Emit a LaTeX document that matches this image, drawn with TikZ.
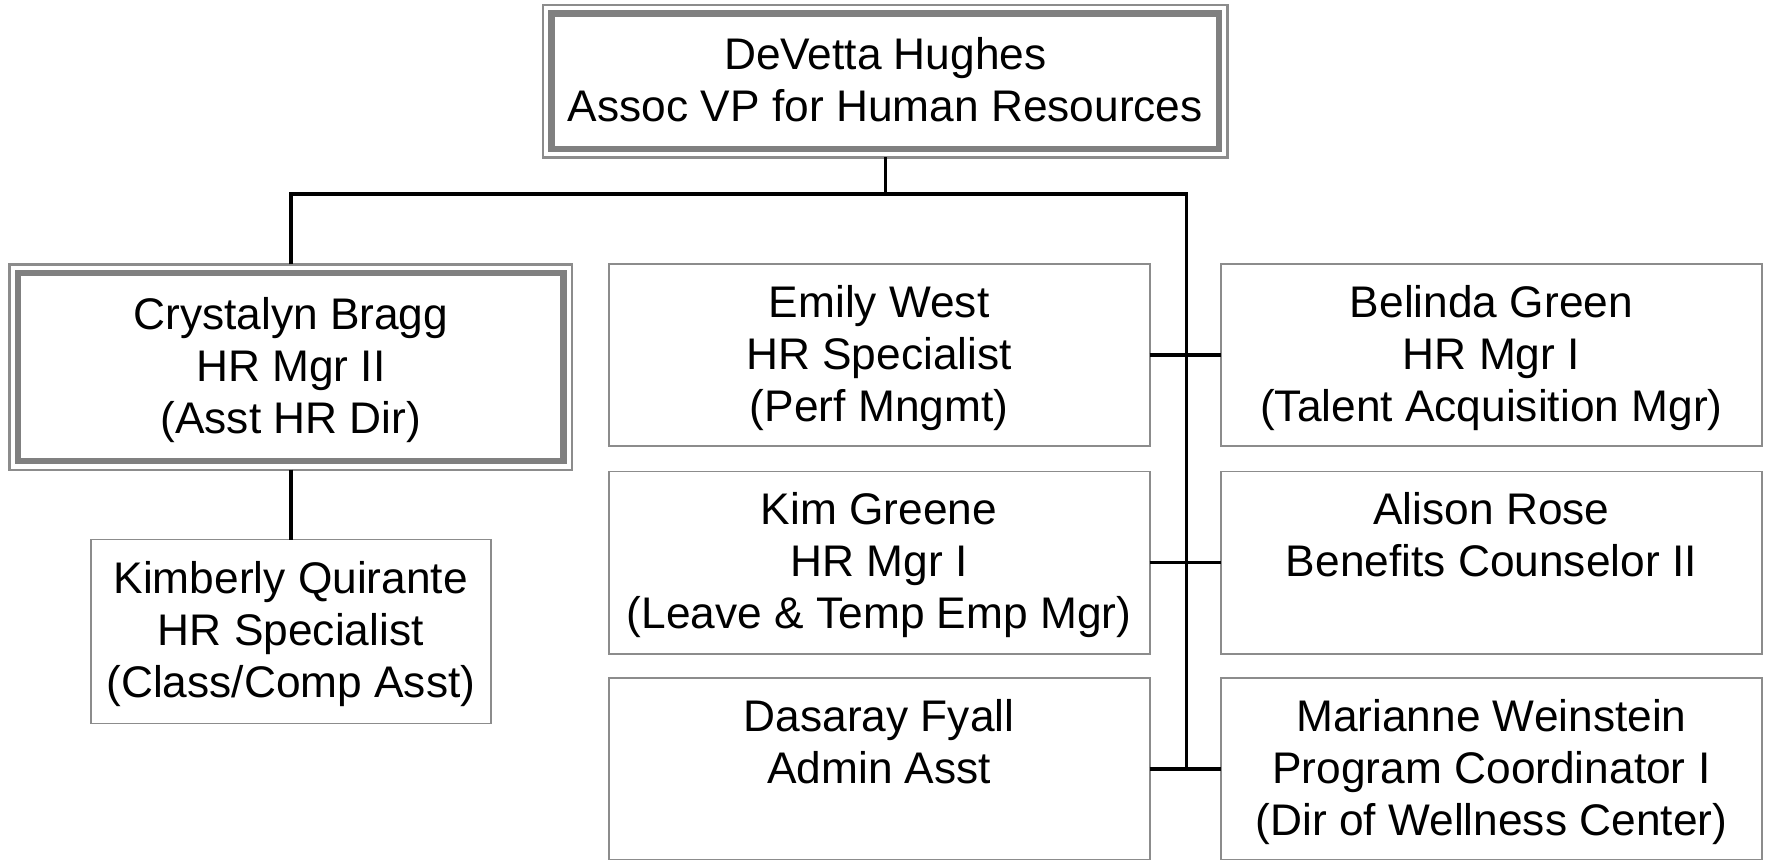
\documentclass[tikz,border=0pt]{standalone}
\usepackage{fontspec}
\setmainfont{Liberation Sans}
\definecolor{rim}{HTML}{8C8C8C}
\definecolor{rimdark}{HTML}{808080}
\newcommand{\staffcard}[1]{\begin{tabular}{@{}c@{}}\rule{0pt}{25.1pt}#1\end{tabular}}
\tikzset{
  staff/.style={draw=rim, line width=1.1pt, inner sep=0pt, outer sep=0pt,
    font=\fontsize{25.2}{29.6}\selectfont, minimum width=10.82cm, minimum height=3.65cm},
  lead/.style={staff, line width=1.4pt},
  leadrim/.style={draw=rimdark, line width=3.7pt},
  link/.style={draw=black, line width=2pt},
}
\begin{document}
\begin{tikzpicture}[x=0.02cm, y=-0.02cm]
    \useasboundingbox (0,0) rectangle (1767,859);
    \clip (0,0) rectangle (1767,859);
    % head of the office
    \node[lead, minimum width=13.69cm, minimum height=3.05cm] (hughes) at (885.3,81.2) {\staffcard{DeVetta Hughes\\Assoc VP for Human Resources}};
    % assistant director and her report
    \node[lead, minimum width=11.25cm, minimum height=4.11cm] (bragg) at (290.8,367) {\staffcard{Crystalyn Bragg\\HR Mgr II\\(Asst HR Dir)}};
    \node[staff, minimum width=8cm, minimum height=3.68cm] (quirante) at (290.8,631.5) {\staffcard{Kimberly Quirante\\HR Specialist\\(Class/Comp Asst)}};
    % staff left of the trunk
    \node[staff] (west) at (879.1,355.2) {\staffcard{Emily West\\HR Specialist\\(Perf Mngmt)}};
    \node[staff] (greene) at (879.1,562.7) {\staffcard{Kim Greene\\HR Mgr I\\(Leave \& Temp Emp Mgr)}};
    \node[staff] (fyall) at (879.1,769.2) {\staffcard{Dasaray Fyall\\Admin Asst\\~}};
    % staff right of the trunk
    \node[staff] (green) at (1491.4,355.2) {\staffcard{Belinda Green\\HR Mgr I\\(Talent Acquisition Mgr)}};
    \node[staff] (rose) at (1491.4,562.7) {\staffcard{Alison Rose\\Benefits Counselor II\\~}};
    \node[staff] (weinstein) at (1491.4,769.2) {\staffcard{Marianne Weinstein\\Program Coordinator I\\(Dir of Wellness Center)}};
    % inner frame of the two lead boxes
    \foreach \n in {hughes,bragg}
        \draw[leadrim] ([shift={(8.5,-8.5)}]\n.south west) rectangle ([shift={(-8.5,8.5)}]\n.north east);
    % connectors
    \coordinate (hub) at (885.3,194);
    \coordinate (trunk) at (1186.3,194);
    \draw[link] (hughes.south) -- (hub);
    \draw[link] (bragg.north) |- (trunk) -- (trunk |- fyall.east);
    \draw[link] (bragg.south) -- (quirante.north);
    \foreach \l/\r in {west/green, greene/rose, fyall/weinstein}
        \draw[link] (\l.east) -- (\r.west);
\end{tikzpicture}
\end{document}
